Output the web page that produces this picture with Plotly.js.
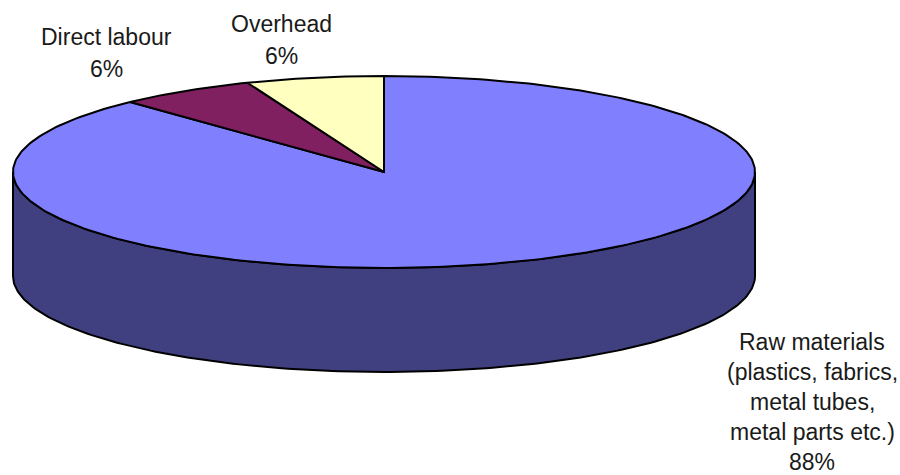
<!DOCTYPE html>
<html>
<head>
<meta charset="utf-8">
<script src="https://cdn.plot.ly/plotly-3.0.1.min.js"></script>
<style>html,body{margin:0;padding:0;background:#fff}</style>
</head>
<body>
<div id="chart" style="width:900px;height:475px"></div>
<script>
// Cost breakdown shown as a tilted pie with a raised rim
const categories = ["Raw materials", "Direct labour", "Overhead"];
const shares = [88, 6, 6];
const sliceColors = ["#8080FF", "#802060", "#FFFFC0"];
const rimColor = "#404080";
const labelLines = [
  ["Raw materials", "(plastics, fabrics,", "metal tubes,", "metal parts etc.)", "88%"],
  ["Direct labour", "6%"],
  ["Overhead", "6%"]
];
const labelCentres = [[812, 342], [106, 37], [281, 24]];
const lineStep = [30, 32, 32];

// Disc geometry in axis units
const cx = 384, cy = 172, rx = 371, ry = 96, depth = 104;
const outline = {color: "#000", width: 2};

// Angle is measured clockwise from 12 o'clock
function rimPoint(deg, drop) {
  const a = deg * Math.PI / 180;
  return [cx + rx * Math.sin(a), cy - ry * Math.cos(a) + drop];
}
function arc(from, to, drop) {
  const pts = [];
  const n = Math.max(2, Math.ceil(Math.abs(to - from)));
  for (let i = 0; i <= n; i++) pts.push(rimPoint(from + (to - from) * i / n, drop));
  return pts;
}
function polygon(pts, fill) {
  return {
    type: "scatter", mode: "lines", fill: "toself", fillcolor: fill,
    x: pts.map(p => p[0]), y: pts.map(p => p[1]),
    line: outline, hoverinfo: "skip", showlegend: false
  };
}

const total = shares.reduce((s, v) => s + v, 0);
const traces = [];

// Visible front wall of the disc
const wall = arc(90, 270, 0).concat(arc(270, 90, depth));
wall.push(wall[0]);
traces.push(polygon(wall, rimColor));

// Top face, one wedge per category
let start = 0;
categories.forEach((name, i) => {
  const end = start + shares[i] / total * 360;
  const wedge = arc(start, end, 0);
  wedge.push([cx, cy]);
  wedge.push(wedge[0]);
  const t = polygon(wedge, sliceColors[i]);
  t.name = name;
  traces.push(t);
  start = end;
});

// Each label line is placed on its own so the line spacing stays even
const annotations = [];
labelLines.forEach((lines, i) => {
  lines.forEach((text, j) => {
    annotations.push({
      x: labelCentres[i][0], y: labelCentres[i][1] + j * lineStep[i],
      xref: "x", yref: "y", text: text, showarrow: false,
      xanchor: "center", yanchor: "middle",
      font: {family: "Liberation Sans, Arial, sans-serif", size: 23, color: "#1a1a1a"}
    });
  });
});

const layout = {
  width: 900, height: 475,
  margin: {l: 0, r: 0, t: 0, b: 0},
  paper_bgcolor: "#fff", plot_bgcolor: "#fff",
  showlegend: false,
  xaxis: {range: [0, 900], visible: false, fixedrange: true},
  yaxis: {range: [475, 0], visible: false, fixedrange: true},
  annotations: annotations
};

Plotly.newPlot("chart", traces, layout, {displayModeBar: false, staticPlot: true});
</script>
</body>
</html>
